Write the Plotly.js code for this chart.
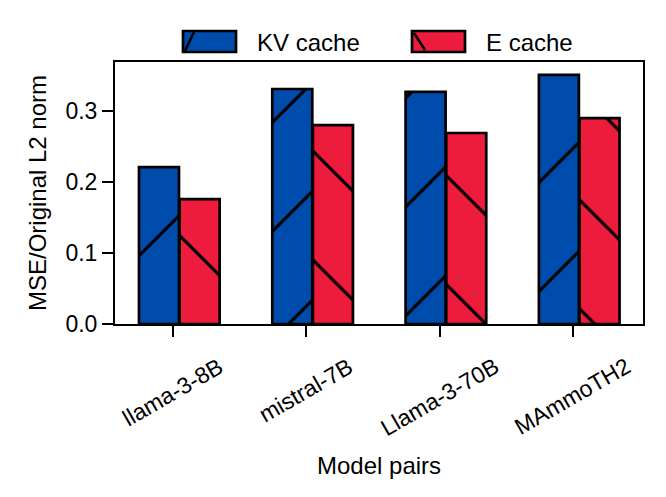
<!DOCTYPE html>
<html>
<head>
<meta charset="utf-8">
<script src="https://cdn.plot.ly/plotly-3.0.1.min.js"></script>
<style>
  html, body { margin: 0; padding: 0; background: #fff; }
  #chart { width: 666px; height: 497px; }
</style>
</head>
<body>
<div id="chart"></div>
<script>
var models = ["llama-3-8B", "mistral-7B", "Llama-3-70B", "MAmmoTH2"];
var kvCache = [0.221, 0.331, 0.327, 0.351];
var eCache = [0.176, 0.280, 0.269, 0.290];
var yTicks = [0.0, 0.1, 0.2, 0.3];
var yTickText = ["0.0", "0.1", "0.2", "0.3"];
var seriesNames = ["KV cache", "E cache"];

var blue = "#004cac";
var red = "#ed1c3c";
var font = "Liberation Sans, Arial, sans-serif";
var pos = models.map(function(m, i) { return i; });

// plot box in pixels, used to place the hand drawn legend
var L = 115, R = 643, T = 62, B = 324;
function px(x) { return (x - L) / (R - L); }
function py(y) { return (B - y) / (B - T); }

var traces = [
  {
    type: "bar", name: seriesNames[0], x: pos, y: kvCache,
    width: 0.3, offset: -0.255, showlegend: false,
    marker: {
      color: blue,
      line: {color: "#000", width: 2.7},
      pattern: {shape: "/", fillmode: "replace", bgcolor: blue, fgcolor: "#000", size: 77, solidity: 0.04}
    }
  },
  {
    type: "bar", name: seriesNames[1], x: pos, y: eCache,
    width: 0.3, offset: 0.05, showlegend: false,
    marker: {
      color: red,
      line: {color: "#000", width: 2.7},
      pattern: {shape: "\\", fillmode: "replace", bgcolor: red, fgcolor: "#000", size: 77, solidity: 0.04}
    }
  }
];

// category labels, rotated about their centre like the original
var annotations = models.map(function(m, i) {
  return {
    x: i, xref: "x", y: -0.105, yref: "paper",
    text: m, showarrow: false, textangle: -30,
    xanchor: "center", yanchor: "top", borderpad: 0,
    font: {size: 23}
  };
});
annotations.push({
  x: 0.5, xref: "paper", y: py(465), yref: "paper",
  text: "Model pairs", showarrow: false,
  xanchor: "center", yanchor: "middle", font: {size: 24}
});

// legend: wide swatches above the plot
var shapes = [];
var swatches = [
  {x0: 183, x1: 236, color: blue, hatch: [185, 51, 194, 32], textX: 255},
  {x0: 412, x1: 465, color: red, hatch: [414, 33, 425, 50], textX: 484}
];
swatches.forEach(function(s, i) {
  shapes.push({type: "rect", xref: "paper", yref: "paper",
    x0: px(s.x0), x1: px(s.x1), y0: py(52), y1: py(31),
    fillcolor: s.color, line: {color: "#000", width: 2.7}});
  shapes.push({type: "line", xref: "paper", yref: "paper",
    x0: px(s.hatch[0]), y0: py(s.hatch[1]), x1: px(s.hatch[2]), y1: py(s.hatch[3]),
    line: {color: "#000", width: 2.5}});
  annotations.push({x: px(s.textX), xref: "paper", y: py(42), yref: "paper",
    text: seriesNames[i], showarrow: false, xanchor: "left", yanchor: "middle",
    font: {size: 24}});
});

var layout = {
  width: 666, height: 497,
  margin: {l: L, r: 666 - R, t: T, b: 497 - B},
  paper_bgcolor: "#fff", plot_bgcolor: "#fff",
  font: {family: font, size: 23, color: "#000"},
  showlegend: false,
  bargap: 0,
  xaxis: {
    range: [-0.435, 3.526], tickvals: pos, showticklabels: false,
    showline: true, linecolor: "#000", linewidth: 2, mirror: true,
    ticks: "outside", ticklen: 11, tickwidth: 2, tickcolor: "#000",
    showgrid: false, zeroline: false
  },
  yaxis: {
    range: [0, 0.369], tickvals: yTicks, ticktext: yTickText,
    showline: true, linecolor: "#000", linewidth: 2, mirror: true,
    ticks: "outside", ticklen: 11, tickwidth: 2, tickcolor: "#000",
    showgrid: false, zeroline: false,
    tickfont: {size: 23},
    title: {text: "MSE/Original L2 norm", font: {size: 24}, standoff: 12}
  },
  shapes: shapes,
  annotations: annotations
};

Plotly.newPlot("chart", traces, layout, {displayModeBar: false, staticPlot: true});
</script>
</body>
</html>
